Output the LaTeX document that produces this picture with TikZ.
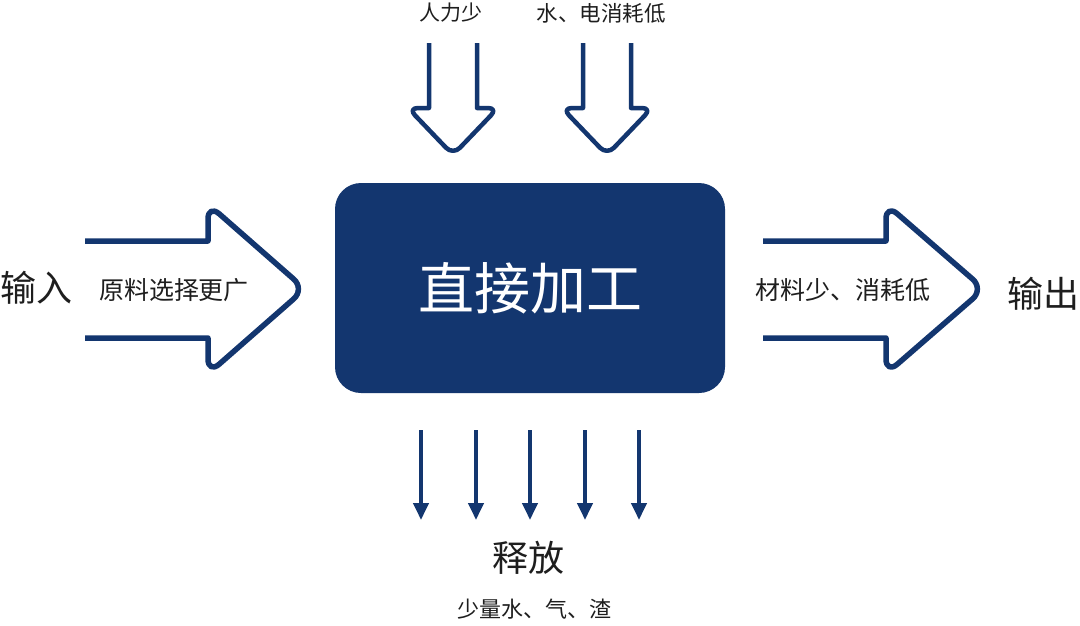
\documentclass[tikz,border=0pt]{standalone}
\usepackage{fontspec}
\setmainfont{Noto Sans CJK SC}
\usetikzlibrary{arrows.meta}
\definecolor{navy}{HTML}{13366F}
\definecolor{ink}{HTML}{1E1E1E}
\begin{document}
\begin{tikzpicture}[x=1pt,y=-1pt,
  bigout/.style={draw=navy,line width=5.5pt,line join=round},
  smallout/.style={draw=navy,line width=4.5pt,line join=round},
  drop/.style={draw=navy,line width=4pt,-{Triangle[width=15pt,length=17pt]}},
  lbl/.style={inner sep=0pt,text=ink},
  core/.style={fill=navy,rounded corners=26pt,minimum width=390pt,minimum height=210pt,inner sep=0pt,text=white,font=\fontsize{56}{56}\selectfont}
]
\useasboundingbox (0,0) rectangle (1080,625);
\fill[white] (0,0) rectangle (1080,625);

% central box
\node[core] (box) at (530,288) {直接加工};

% left input arrow
\draw[bigout] (85,241) -- (208,241) [rounded corners=15pt] -- (208,204) -- (305,289) -- (208,374) [sharp corners] -- (208,338) -- (85,338);
% right output arrow
\draw[bigout] (763,241) -- (886,241) [rounded corners=15pt] -- (886,204) -- (984,289) -- (886,374) [sharp corners] -- (886,338) -- (763,338);

% top arrows
\draw[smallout] (429,43) -- (429,108) [rounded corners=10pt] -- (408,108) -- (453,155) -- (498,108) [sharp corners] -- (477,108) -- (477,43);
\draw[smallout] (583,43) -- (583,108) [rounded corners=10pt] -- (562,108) -- (607,155) -- (652,108) [sharp corners] -- (631,108) -- (631,43);

% bottom release arrows
\foreach \i/\x in {1/421,2/476,3/530,4/585,5/639}{
  \coordinate (s\i) at (\x,430);
  \coordinate (e\i) at (\x,520);
  \draw[drop] (s\i) -- (e\i);
}

% labels
\node[lbl,font=\fontsize{21}{21}\selectfont] (t1) at (451,13) {人力少};
\node[lbl,font=\fontsize{21.5}{21.5}\selectfont] (t2) at (601,13) {水、电消耗低};
\node[lbl,font=\fontsize{36}{36}\selectfont] (in) at (37,288) {输入};
\node[lbl,font=\fontsize{25}{25}\selectfont] (inl) at (174,290) {原料选择更广};
\node[lbl,font=\fontsize{25}{25}\selectfont] (outl) at (843,290) {材料少、消耗低};
\node[lbl,font=\fontsize{36}{36}\selectfont] (out) at (1043,294) {输出};
\node[lbl,font=\fontsize{36}{36}\selectfont] (rel) at (528,558) {释放};
\node[lbl,font=\fontsize{22}{22}\selectfont] (rell) at (534,609) {少量水、气、渣};
\end{tikzpicture}
\end{document}
